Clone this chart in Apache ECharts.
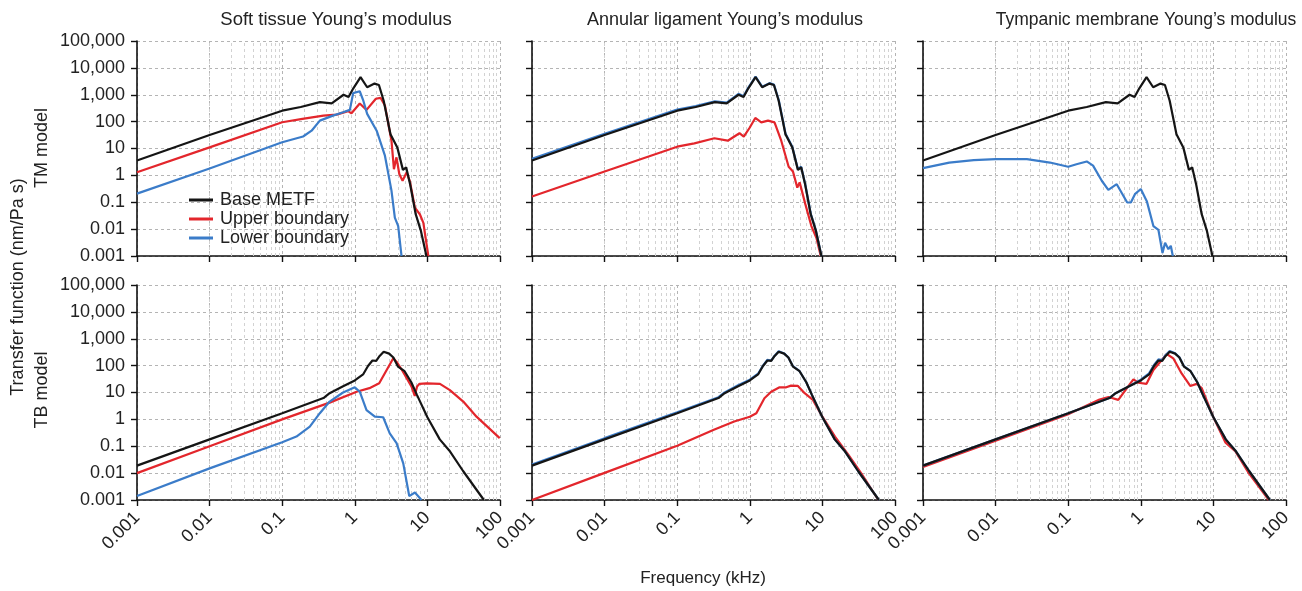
<!DOCTYPE html>
<html><head><meta charset="utf-8">
<script src="https://cdn.jsdelivr.net/npm/echarts@6/dist/echarts.min.js"></script>
<style>html,body{margin:0;padding:0;background:#fff}#c{width:1302px;height:591px}</style>
</head><body><div id="c"></div>
<script>
// ---------- tick labels & texts ----------
const xTickLabels = ['0.001','0.01','0.1','1','10','100'];
const yTickLabels = ['0.001','0.01','0.1','1','10','100','1,000','10,000','100,000'];
const panelTitles = ['Soft tissue Young\u2019s modulus','Annular ligament Young\u2019s modulus','Tympanic membrane Young\u2019s modulus'];
const seriesNames = ['Base METF','Upper boundary','Lower boundary'];

// ---------- TM model (top row) ----------
const baseTM_f = [0.001,0.01,0.1,0.18,0.33,0.48,0.7,0.82,0.95,1.2,1.48,1.87,2.15,2.5,3.1,3.85,4.6,5.1,5.8,6.9,8.1,9.7];
const baseTM_v = [3.6,32,255,350,530,480,1000,830,1700,4500,1900,2600,2300,600,34,11,1.6,2.0,0.45,0.036,0.009,0.001];

const upperTM_soft_f = [0.001,0.01,0.1,0.19,0.37,0.56,0.81,0.9,1.17,1.45,1.95,2.26,2.6,3.2,3.46,3.75,4.1,4.55,5.16,5.74,6.73,7.9,8.8,10.3];
const upperTM_soft_v = [1.3,11,95,126,167,182,245,204,475,273,710,770,400,19.5,1.7,4.7,1.12,0.63,1.29,0.6,0.063,0.035,0.017,0.001];
const lowerTM_soft_f = [0.001,0.01,0.1,0.194,0.254,0.33,0.5,0.69,0.855,0.95,1.17,1.31,1.48,2.0,2.6,3.2,3.56,3.96,4.4];
const lowerTM_soft_v = [0.21,1.8,17,28,46,109,167,222,274,1150,1350,600,194,46,5.4,0.27,0.027,0.013,0.001];

const upperTM_lig_f = [0.001,0.01,0.1,0.172,0.325,0.497,0.72,0.826,0.99,1.19,1.44,1.78,2.19,2.71,3.43,3.93,4.51,4.86,5.82,7.05,8.26,9.5];
const upperTM_lig_v = [0.164,1.4,11.7,15.6,24,19.5,37,27.5,58,137,94,109,94,19.5,2.1,1.4,0.35,0.55,0.085,0.013,0.0048,0.001];
const lowerTM_lig_f = [0.001,0.01,0.1,0.18,0.33,0.48,0.7,0.82,0.95,1.2,1.48,1.87,2.15,2.5,3.1,3.85,4.6,5.1,5.8,6.9,8.1,9.7];
const lowerTM_lig_v = [4.1,35,280,380,570,510,1080,880,1800,4700,2000,2700,2400,650,36,11.5,1.7,2.1,0.47,0.038,0.0095,0.001];

const lowerTM_mem_f = [0.001,0.0023,0.005,0.01,0.027,0.056,0.1,0.13,0.18,0.22,0.29,0.357,0.466,0.65,0.73,0.83,1.0,1.21,1.49,1.75,1.99,2.16,2.4,2.59,2.76];
const lowerTM_mem_v = [1.86,3.0,3.7,4.0,4.0,3.0,2.1,2.6,3.3,2.3,0.63,0.29,0.47,0.098,0.098,0.2,0.31,0.11,0.013,0.0093,0.0013,0.0031,0.0018,0.0024,0.001];

// ---------- TB model (bottom row) ----------
const baseTB_f = [0.001,0.01,0.1,0.37,0.45,0.69,1.0,1.3,1.52,1.75,1.97,2.2,2.5,2.97,3.4,3.93,4.85,6.0,7.2,10,14.8,20,31,60];
const baseTB_v = [0.019,0.18,1.7,6.2,9.4,17,28,47,97,155,150,230,330,280,200,92,62,24,8,1.2,0.18,0.07,0.012,0.001];

const upperTB_soft_f = [0.001,0.01,0.1,0.45,1.06,1.59,2.17,3.39,3.75,4.4,6.05,6.7,7.2,7.8,9.75,14.9,20.4,31.2,47.5,99];
const upperTB_soft_v = [0.01,0.1,1.0,4.2,10.7,14.5,22,187,140,73,16.6,7.4,16.6,21,22,21,12.3,4.6,1.26,0.2];
const lowerTB_soft_f = [0.001,0.01,0.1,0.157,0.24,0.33,0.45,0.69,1.0,1.17,1.45,1.89,2.46,3.03,3.76,4.65,5.62,6.73,8.3];
const lowerTB_soft_v = [0.0014,0.015,0.14,0.23,0.54,1.7,4.6,10,15.6,10.7,2.2,1.26,1.2,0.3,0.13,0.023,0.0014,0.0019,0.001];

const upperTB_lig_f = [0.001,0.01,0.1,0.32,0.61,1.0,1.23,1.59,1.97,2.57,3.17,3.7,4.6,5.7,7.4,10,14.9,22.6,34.5,59];
const upperTB_lig_v = [0.001,0.0102,0.105,0.41,0.83,1.26,1.7,6.1,10.7,15.6,15.6,18,17.6,9.4,5.3,1.26,0.23,0.05,0.0096,0.001];
const lowerTB_lig_f = [0.001,0.01,0.1,0.37,0.45,0.69,1.0,1.3,1.52,1.75,1.97,2.2,2.5,2.97,3.4,3.93,4.85,6.0,7.2,10,14.8,20,31,60];
const lowerTB_lig_v = [0.021,0.2,1.85,6.7,10,18.5,30,50,100,165,155,235,345,285,200,95,62,24,8,1.2,0.18,0.07,0.012,0.001];

const upperTB_mem_f = [0.001,0.01,0.1,0.27,0.36,0.49,0.79,0.93,1.2,1.49,2.28,2.8,3.65,4.8,5.9,6.9,10,14.6,20,30,58];
const upperTB_mem_v = [0.017,0.16,1.55,5.5,6.8,5.3,31,23,21,69,270,187,51,17.5,21,14.5,1.2,0.14,0.065,0.011,0.001];
const lowerTB_mem_f = [0.001,0.01,0.1,0.37,0.45,0.69,1.0,1.3,1.52,1.75,1.97,2.2,2.5,2.97,3.4,3.93,4.85,6.0,7.2,10,14.8,20,31,60];
const lowerTB_mem_v = [0.019,0.18,1.7,6.2,9.4,17,30,52,105,170,160,250,350,290,205,95,62,24,8,1.2,0.18,0.07,0.012,0.001];

// ---------- styling ----------
const FONT = 'Liberation Sans, Arial, sans-serif';
const COLORS = {'Base METF':'#151515','Upper boundary':'#e3262c','Lower boundary':'#3b7cc9'};
const gridLefts = [137, 532, 923];
const gridW = 363;
const rowTops = [41, 285];
const rowH = 215;

const pairs = (f, v) => f.map((x, i) => [x, v[i]]);

const grids = [], xAxes = [], yAxes = [], series = [];
for (let r = 0; r < 2; r++) {
  for (let c = 0; c < 3; c++) {
    const i = r * 3 + c;
    grids.push({left: gridLefts[c], top: rowTops[r], width: gridW, height: rowH, containLabel: false});
    xAxes.push({
      type: 'log', logBase: 10, gridIndex: i, min: 0.001, max: 100, splitNumber: 5,
      axisLine: {show: true, onZero: false, lineStyle: {color: '#111', width: 1.6}},
      axisTick: {show: true, length: 6, inside: false, lineStyle: {color: '#111', width: 1.4}},
      axisLabel: {show: r === 1, rotate: 45, fontSize: 18, color: '#222', margin: 15, fontFamily: FONT,
        formatter: v => xTickLabels[Math.round(Math.log10(v)) + 3]},
      splitLine: {show: true, lineStyle: {color: '#b4b4b4', type: [3, 3], width: 1}}
    });
    yAxes.push({
      type: 'log', logBase: 10, gridIndex: i, min: 0.001, max: 100000, splitNumber: 8,
      axisLine: {show: true, onZero: false, lineStyle: {color: '#111', width: 1.6}},
      axisTick: {show: true, length: 6, inside: false, lineStyle: {color: '#111', width: 1.4}},
      axisLabel: {show: c === 0, fontSize: 18, color: '#222', margin: 12, fontFamily: FONT,
        formatter: v => yTickLabels[Math.round(Math.log10(v)) + 3]},
      splitLine: {show: true, lineStyle: {color: '#b4b4b4', type: [3, 3], width: 1}}
    });
  }
}

// minor vertical grid lines at 2..9 of each decade
const minorX = [];
[0.001, 0.01, 0.1, 1, 10].forEach(d => { for (let m = 2; m <= 9; m++) minorX.push(+(d * m).toPrecision(3)); });
for (let i = 0; i < 6; i++) {
  series.push({
    type: 'line', xAxisIndex: i, yAxisIndex: i, data: [], silent: true, z: 1,
    markLine: {silent: true, z: 1, symbol: ['none', 'none'], label: {show: false}, animation: false,
      lineStyle: {color: '#d2d2d2', type: [3, 3], width: 1},
      emphasis: {disabled: true},
      data: minorX.map(x => ({xAxis: x}))}
  });
}

function line(name, f, v, idx) {
  series.push({
    name, type: 'line', xAxisIndex: idx, yAxisIndex: idx, data: pairs(f, v),
    showSymbol: false, symbol: 'none', clip: true, z: 10,
    lineStyle: {color: COLORS[name], width: 2.2}, itemStyle: {color: COLORS[name]},
    emphasis: {disabled: true}
  });
}
// panel 0
line('Upper boundary', upperTM_soft_f, upperTM_soft_v, 0);
line('Lower boundary', lowerTM_soft_f, lowerTM_soft_v, 0);
line('Base METF', baseTM_f, baseTM_v, 0);
// panel 1
line('Upper boundary', upperTM_lig_f, upperTM_lig_v, 1);
line('Lower boundary', lowerTM_lig_f, lowerTM_lig_v, 1);
line('Base METF', baseTM_f, baseTM_v, 1);
// panel 2
line('Lower boundary', lowerTM_mem_f, lowerTM_mem_v, 2);
line('Base METF', baseTM_f, baseTM_v, 2);
// panel 3
line('Upper boundary', upperTB_soft_f, upperTB_soft_v, 3);
line('Lower boundary', lowerTB_soft_f, lowerTB_soft_v, 3);
line('Base METF', baseTB_f, baseTB_v, 3);
// panel 4
line('Upper boundary', upperTB_lig_f, upperTB_lig_v, 4);
line('Lower boundary', lowerTB_lig_f, lowerTB_lig_v, 4);
line('Base METF', baseTB_f, baseTB_v, 4);
// panel 5
line('Upper boundary', upperTB_mem_f, upperTB_mem_v, 5);
line('Lower boundary', lowerTB_mem_f, lowerTB_mem_v, 5);
line('Base METF', baseTB_f, baseTB_v, 5);

const txt = (text, x, y, size, rot) => ({
  type: 'text', x, y, rotation: rot || 0, silent: true,
  style: {text, fill: '#222', font: `${size}px ${FONT}`, align: 'center', verticalAlign: 'middle'}
});

const chart = echarts.init(document.getElementById('c'), null, {renderer: 'canvas'});
chart.setOption({
  animation: false,
  backgroundColor: '#fff',
  grid: grids, xAxis: xAxes, yAxis: yAxes, series,
  legend: {
    data: seriesNames, orient: 'vertical', left: 184, top: 186,
    icon: 'rect', itemWidth: 24, itemHeight: 3, itemGap: 1,
    textStyle: {fontSize: 18, color: '#222', fontFamily: FONT, padding: [0, 0, 0, 2]},
    selectedMode: false
  },
  graphic: [
    txt(panelTitles[0], 336, 20, 18.5),
    txt(panelTitles[1], 725, 20, 18),
    txt(panelTitles[2], 1146, 20, 17.5),
    txt('Frequency (kHz)', 703, 578, 17),
    txt('Transfer function (nm/Pa s)', 18, 287, 18, Math.PI / 2),
    txt('TM model', 42, 148, 18, Math.PI / 2),
    txt('TB model', 42, 390, 18, Math.PI / 2)
  ]
});
</script></body></html>
